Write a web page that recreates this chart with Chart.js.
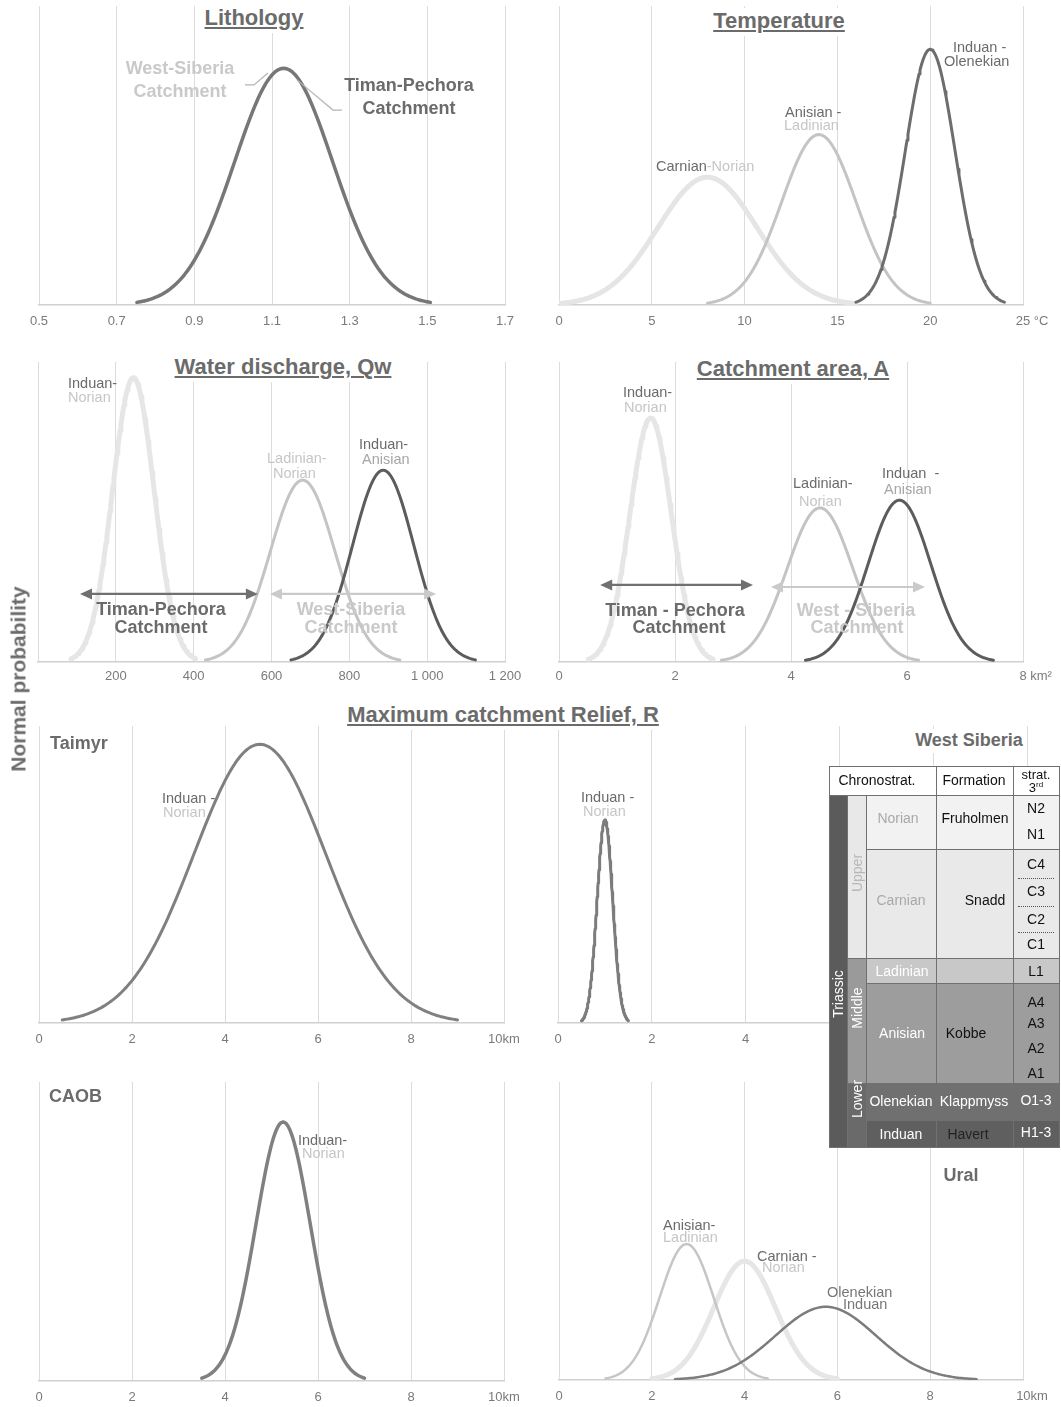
<!DOCTYPE html>
<html><head><meta charset="utf-8">
<script src="https://cdn.jsdelivr.net/npm/chart.js@4.4.0/dist/chart.umd.min.js"></script>
<style>
html,body{margin:0;padding:0;background:#fff;}
#page{position:relative;width:1061px;height:1407px;overflow:hidden;font-family:"Liberation Sans",Arial,sans-serif;background:#fff;}
#page canvas{position:absolute;left:0;top:0;z-index:1;}
.t{position:absolute;white-space:nowrap;line-height:1;z-index:5;}
.cell{position:absolute;box-sizing:border-box;border:1px solid #707070;z-index:10;}
</style></head>
<body><div id="page"></div>
<script>
// ===================== DATA =====================
// Lithology
const lithSeries = ['Timan-Pechora / West-Siberia Catchment'];
const lithMeans = [1.13];
const lithSDs = [0.126];
const lithTicks = [0.5, 0.7, 0.9, 1.1, 1.3, 1.5, 1.7];
const lithTickLabels = ['0,5', '0,7', '0,9', '1,1', '1,3', '1,5', '1,7'];

// Temperature (°C)
const tempSeries = ['Carnian-Norian', 'Anisian-Ladinian', 'Induan-Olenekian'];
const tempMeans = [8, 14, 20];
const tempSDs = [2.667, 2.0, 1.333];
const tempTicks = [0, 5, 10, 15, 20, 25];
const tempTickLabels = ['0', '5', '10', '15', '20', '25 °C'];

// Water discharge, Qw
const qwSeries = ['Induan-Norian', 'Ladinian-Norian', 'Induan-Anisian'];
const qwMeans = [245, 680, 887];
const qwSDs = [53.3, 83.3, 79];
const qwTicks = [0, 200, 400, 600, 800, 1000, 1200];
const qwTickLabels = ['', '200', '400', '600', '800', '1 000', '1 200'];

// Catchment area, A
const areaSeries = ['Induan-Norian', 'Ladinian-Norian', 'Induan-Anisian'];
const areaMeans = [1.58, 4.5, 5.87];
const areaSDs = [0.358, 0.567, 0.54];
const areaTicks = [0, 2, 4, 6, 8];
const areaTickLabels = ['0', '2', '4', '6', '8 km²'];

// Maximum catchment relief, R (km)
const reliefTicks = [0, 2, 4, 6, 8, 10];
const reliefTickLabels = ['0', '2', '4', '6', '8', '10km'];
const taimyrSeries = ['Induan-Norian'];
const taimyrMeans = [4.75];
const taimyrSDs = [1.417];
const wsSeries = ['Induan-Norian'];
const wsMeans = [1.0];
const wsSDs = [0.1667];
const caobSeries = ['Induan-Norian'];
const caobMeans = [5.25];
const caobSDs = [0.583];
const uralSeries = ['Anisian-Ladinian', 'Carnian-Norian', 'Olenekian-Induan'];
const uralMeans = [2.75, 4.0, 5.75];
const uralSDs = [0.583, 0.667, 1.083];

// ===================== RENDERING =====================
const FONT = '"Liberation Sans", Arial, sans-serif';
const page = document.getElementById('page');
const DARK = '#6b6b6b', LIGHT = '#c6c6c6', MIDT = '#a6a6a6';

function normalCurve(m, s) {
  const pts = [];
  const n = 160;
  for (let i = 0; i <= n; i++) {
    const x = m - 3 * s + 6 * s * i / n;
    const y = Math.exp(-0.5 * Math.pow((x - m) / s, 2)) / (s * Math.sqrt(2 * Math.PI));
    pts.push({ x, y });
  }
  return pts;
}

function makeAnnot(arrows, leaders) {
  return {
    id: 'annot',
    afterDatasetsDraw(chart) {
      const ctx = chart.ctx, xs = chart.scales.x, ys = chart.scales.y;
      const px = v => xs.getPixelForValue(v), py = f => ys.getPixelForValue(f * ys.max);
      (leaders || []).forEach(l => {
        ctx.save(); ctx.strokeStyle = l.color; ctx.lineWidth = 1.2; ctx.beginPath();
        l.pts.forEach((p, i) => { const X = px(p[0]), Y = py(p[1]); i ? ctx.lineTo(X, Y) : ctx.moveTo(X, Y); });
        ctx.stroke(); ctx.restore();
      });
      (arrows || []).forEach(a => {
        const x1 = px(a.x1), x2 = px(a.x2), y = py(a.y), hl = 12, hw = 5.5;
        ctx.save(); ctx.strokeStyle = a.color; ctx.fillStyle = a.color; ctx.lineWidth = 2.2;
        ctx.beginPath(); ctx.moveTo(x1 + hl - 1, y); ctx.lineTo(x2 - hl + 1, y); ctx.stroke();
        ctx.beginPath(); ctx.moveTo(x1, y); ctx.lineTo(x1 + hl, y - hw); ctx.lineTo(x1 + hl, y + hw); ctx.closePath(); ctx.fill();
        ctx.beginPath(); ctx.moveTo(x2, y); ctx.lineTo(x2 - hl, y - hw); ctx.lineTo(x2 - hl, y + hw); ctx.closePath(); ctx.fill();
        ctx.restore();
      });
    }
  };
}

function panel(cfg) {
  const c = document.createElement('canvas');
  c.width = 1061; c.height = 1407;
  page.appendChild(c);
  const datasets = cfg.means.map((m, i) => ({
    label: cfg.names[i],
    data: normalCurve(m, cfg.sds[i]),
    showLine: true, fill: false, tension: 0, pointRadius: 0,
    borderColor: cfg.colors[i], borderWidth: cfg.widths[i], order: cfg.orders ? cfg.orders[i] : i,
    borderCapStyle: 'round', borderJoinStyle: 'round'
  }));
  const last = cfg.ticks.length - 1;
  const yScale = cfg.zeroLabel ? {
    display: true, position: 'left', min: 0, max: cfg.ymax,
    grid: { display: false, drawTicks: false }, border: { display: false },
    afterBuildTicks: s => { s.ticks = [{ value: 0 }]; },
    afterFit: s => { s.width = 0; },
    ticks: { padding: 19, color: '#7a7a7a', font: { family: FONT, size: 13 }, callback: () => '0' }
  } : { display: false, min: 0, max: cfg.ymax };
  new Chart(c, {
    type: 'scatter',
    data: { datasets },
    options: {
      responsive: false, animation: false, devicePixelRatio: 1, events: [],
      layout: { padding: { left: cfg.L, right: 1061 - cfg.R, top: cfg.T, bottom: 1407 - cfg.B - 20 } },
      plugins: { legend: { display: false }, tooltip: { enabled: false } },
      scales: {
        x: {
          type: 'linear', min: cfg.ticks[0], max: cfg.ticks[last],
          afterBuildTicks: s => { s.ticks = cfg.ticks.map(v => ({ value: v })); },
          afterFit: s => { s.height = 20; },
          grid: { color: '#dcdcdc', lineWidth: 1, drawTicks: false },
          border: { color: '#d0d0d0', width: 1.6 },
          ticks: {
            padding: cfg.tickPad || 9, color: '#7a7a7a', font: { family: FONT, size: 13 },
            maxRotation: 0, autoSkip: false,
            callback: (v, i) => (i === last && cfg.unitPad ? ' '.repeat(cfg.unitPad) : '') + cfg.tickLabels[i]
          }
        },
        y: yScale
      }
    },
    plugins: [makeAnnot(cfg.arrows, cfg.leaders)]
  });
}

function txt(s, x, y, o = {}) {
  const d = document.createElement('div');
  d.className = 't';
  d.innerHTML = s;
  d.style.left = x + 'px'; d.style.top = y + 'px';
  d.style.fontSize = (o.size || 14.5) + 'px';
  d.style.color = o.color || DARK;
  if (o.bold) d.style.fontWeight = 'bold';
  if (o.underline) { d.style.textDecoration = 'underline'; d.style.textDecorationThickness = '1.5px'; d.style.textUnderlineOffset = '2px'; }
  if (o.bg) { d.style.background = '#fff'; d.style.padding = '2px 3px 4px 3px'; }
  if (o.z) d.style.zIndex = o.z;
  let tr = 'translate(' + (o.center ? '-50%' : '0') + ',-50%)';
  if (o.rotate) tr = 'translate(-50%,-50%) rotate(-90deg)';
  d.style.transform = tr;
  page.appendChild(d);
  return d;
}

// ---- Lithology
panel({
  names: lithSeries, means: lithMeans, sds: lithSDs, ticks: lithTicks, tickLabels: lithTickLabels,
  colors: ['#777777'], widths: [3.5], L: 39, R: 505, T: 6, B: 305, ymax: 4,
  leaders: [
    { color: '#b4b4b4', pts: [[1.0305, 0.736], [1.0536, 0.736], [1.0897, 0.776]] },
    { color: '#b4b4b4', pts: [[1.1644, 0.753], [1.257, 0.652], [1.280, 0.652]] }
  ]
});
// ---- Temperature
panel({
  names: tempSeries, means: tempMeans, sds: tempSDs, ticks: tempTicks, tickLabels: tempTickLabels, unitPad: 5,
  colors: ['#e5e5e5', '#c4c4c4', '#6d6d6d'], widths: [5, 3, 3], orders: [3, 2, 1],
  L: 559, R: 1023, T: 6, B: 305, ymax: 0.35
});
// ---- Water discharge
panel({
  names: qwSeries, means: qwMeans, sds: qwSDs, ticks: qwTicks, tickLabels: qwTickLabels, tickPad: 7,
  colors: ['#e6e6e6', '#c4c4c4', '#5c5c5c'], widths: [5, 3, 3], orders: [3, 2, 1],
  L: 38, R: 505, T: 362, B: 662, ymax: 0.0079,
  arrows: [
    { x1: 108, x2: 565, y: 0.227, color: '#707070' },
    { x1: 596, x2: 1023, y: 0.227, color: '#cacaca' }
  ]
});
// ---- Catchment area
panel({
  names: areaSeries, means: areaMeans, sds: areaSDs, ticks: areaTicks, tickLabels: areaTickLabels, tickPad: 7, unitPad: 7,
  colors: ['#e6e6e6', '#c4c4c4', '#5c5c5c'], widths: [5, 3, 3], orders: [3, 2, 1],
  L: 559, R: 1023, T: 362, B: 662, ymax: 1.37,
  arrows: [
    { x1: 0.71, x2: 3.345, y: 0.257, color: '#707070' },
    { x1: 3.655, x2: 6.31, y: 0.25, color: '#cacaca' }
  ]
});
// ---- Taimyr
panel({
  names: taimyrSeries, means: taimyrMeans, sds: taimyrSDs, ticks: reliefTicks, tickLabels: reliefTickLabels,
  colors: ['#808080'], widths: [3], L: 39, R: 504, T: 726, B: 1023, ymax: 0.3
});
// ---- West Siberia relief
panel({
  names: wsSeries, means: wsMeans, sds: wsSDs, ticks: reliefTicks, tickLabels: reliefTickLabels, unitPad: 5,
  colors: ['#7c7c7c'], widths: [3], L: 558, R: 1031, T: 726, B: 1023, ymax: 3.5, zeroLabel: true
});
// ---- CAOB
panel({
  names: caobSeries, means: caobMeans, sds: caobSDs, ticks: reliefTicks, tickLabels: reliefTickLabels,
  colors: ['#808080'], widths: [3.5], L: 39, R: 504, T: 1082, B: 1381, ymax: 0.79
});
// ---- Ural
panel({
  names: uralSeries, means: uralMeans, sds: uralSDs, ticks: reliefTicks, tickLabels: reliefTickLabels, unitPad: 5,
  colors: ['#c6c6c6', '#e6e6e6', '#7c7c7c'], widths: [2.5, 5, 2.5], orders: [2, 3, 1],
  L: 559, R: 1023, T: 1082, B: 1380, ymax: 1.5
});

// ===================== TEXTS =====================
const TB = { bold: true, size: 22, center: true, underline: true, bg: true, z: 6 };
txt('Lithology', 254, 19, TB);
txt('Temperature', 779, 22, TB);
txt('Water discharge, Qw', 283, 368, TB);
txt('Catchment area, A', 793, 370, TB);
txt('Maximum catchment Relief, R', 503, 716, TB);
txt('Normal probability', 18, 679, { bold: true, size: 21, rotate: true });

// Lithology
txt('West-Siberia', 180, 68, { bold: true, size: 18, center: true, color: '#c9c9c9' });
txt('Catchment', 180, 91, { bold: true, size: 18, center: true, color: '#c9c9c9' });
txt('Timan-Pechora', 409, 85, { bold: true, size: 18, center: true });
txt('Catchment', 409, 108, { bold: true, size: 18, center: true });

// Temperature
txt('Carnian<span style="color:' + LIGHT + '">-Norian</span>', 656, 166);
txt('Anisian -', 785, 112);
txt('Ladinian', 784, 125, { color: LIGHT });
txt('Induan -', 953, 47);
txt('Olenekian', 944, 61);

// Water discharge
txt('Induan-', 68, 383);
txt('Norian', 68, 397, { color: LIGHT });
txt('Ladinian-', 267, 458, { color: LIGHT });
txt('Norian', 273, 473, { color: LIGHT });
txt('Induan-', 359, 444);
txt('Anisian', 362, 459, { color: MIDT });
txt('Timan-Pechora', 161, 609, { bold: true, size: 18, center: true });
txt('Catchment', 161, 627, { bold: true, size: 18, center: true });
txt('West-Siberia', 351, 609, { bold: true, size: 18, center: true, color: '#c9c9c9' });
txt('Catchment', 351, 627, { bold: true, size: 18, center: true, color: '#c9c9c9' });

// Catchment area
txt('Induan-', 623, 392);
txt('Norian', 624, 407, { color: LIGHT });
txt('Ladinian-', 793, 483);
txt('Norian', 799, 501, { color: LIGHT });
txt('Induan&nbsp;&nbsp;-', 882, 473);
txt('Anisian', 884, 489, { color: MIDT });
txt('Timan - Pechora', 675, 610, { bold: true, size: 18, center: true });
txt('Catchment', 679, 627, { bold: true, size: 18, center: true });
txt('West - Siberia', 856, 610, { bold: true, size: 18, center: true, color: '#c9c9c9' });
txt('Catchment', 857, 627, { bold: true, size: 18, center: true, color: '#c9c9c9' });

// Relief
txt('Taimyr', 50, 743, { bold: true, size: 18 });
txt('Induan -', 162, 798);
txt('Norian', 163, 812, { color: LIGHT });
txt('Induan -', 581, 797);
txt('Norian', 583, 811, { color: LIGHT });
txt('West Siberia', 969, 741, { bold: true, size: 18, center: true, bg: true });
txt('CAOB', 49, 1096, { bold: true, size: 18 });
txt('Induan-', 298, 1140);
txt('Norian', 302, 1153, { color: LIGHT });
txt('Ural', 961, 1175, { bold: true, size: 18, center: true });
txt('Anisian-', 663, 1225);
txt('Ladinian', 663, 1237, { color: LIGHT });
txt('Carnian -', 757, 1256);
txt('Norian', 762, 1267, { color: LIGHT });
txt('Olenekian', 827, 1292, { color: '#777' });
txt('Induan', 843, 1304, { color: '#777' });

// ===================== STRATIGRAPHIC TABLE =====================
function cell(x, y, w, h, bg) {
  const d = document.createElement('div');
  d.className = 'cell';
  d.style.left = x + 'px'; d.style.top = y + 'px';
  d.style.width = (w + 1) + 'px'; d.style.height = (h + 1) + 'px';
  d.style.background = bg;
  page.appendChild(d);
}
function tt(s, x, y, color, o = {}) {
  return txt(s, x, y, Object.assign({ center: true, size: 14, color: color, z: 11 }, o));
}
// header
cell(829, 766, 107, 29, '#fff'); cell(936, 766, 77, 29, '#fff'); cell(1013, 766, 46, 29, '#fff');
tt('Chronostrat.', 877, 780, '#111'); tt('Formation', 974, 780, '#111');
tt('strat.', 1036, 774, '#111', { size: 13 });
tt('3<sup style="font-size:8px;vertical-align:5px">rd</sup>', 1036, 787, '#111', { size: 13 });
// era / series strips
cell(829, 795, 18, 352, '#5b5b5b');
cell(847, 795, 19, 163, '#e8e8e8');
cell(847, 958, 19, 125, '#9a9a9a');
cell(847, 1083, 19, 64, '#6a6a6a');
tt('Triassic', 838, 994, '#fff', { rotate: true });
tt('Upper', 857, 873, '#b8b8b8', { rotate: true });
tt('Middle', 857, 1008, '#fff', { rotate: true });
tt('Lower', 857, 1099, '#fff', { rotate: true });
// rows
const rows = [
  [795, 54, '#f2f2f2'], [849, 109, '#e9e9e9'], [958, 25, '#c8c8c8'],
  [983, 100, '#9d9d9d'], [1083, 37, '#707070'], [1120, 27, '#5f5f5f']
];
rows.forEach(r => { cell(866, r[0], 70, r[1], r[2]); cell(936, r[0], 77, r[1], r[2]); cell(1013, r[0], 46, r[1], r[2]); });
tt('Norian', 898, 818, '#a9a9a9'); tt('Fruholmen', 975, 818, '#111');
tt('N2', 1036, 808, '#111'); tt('N1', 1036, 834, '#111');
tt('Carnian', 901, 900, '#a9a9a9'); tt('Snadd', 985, 900, '#111');
tt('C4', 1036, 864, '#111'); tt('C3', 1036, 891, '#111'); tt('C2', 1036, 919, '#111'); tt('C1', 1036, 944, '#111');
[878, 906, 932].forEach(y => {
  const d = document.createElement('div');
  d.style.cssText = 'position:absolute;left:1018px;width:36px;top:' + y + 'px;border-top:1px dotted #555;z-index:11;';
  page.appendChild(d);
});
tt('Ladinian', 902, 971, '#fff'); tt('L1', 1036, 971, '#111');
tt('Anisian', 902, 1033, '#fff'); tt('Kobbe', 966, 1033, '#111');
tt('A4', 1036, 1002, '#111'); tt('A3', 1036, 1023, '#111'); tt('A2', 1036, 1048, '#111'); tt('A1', 1036, 1073, '#111');
tt('Olenekian', 901, 1101, '#fff'); tt('Klappmyss', 974, 1101, '#fff'); tt('O1-3', 1036, 1100, '#fff');
tt('Induan', 901, 1134, '#fff'); tt('Havert', 968, 1134, '#222'); tt('H1-3', 1036, 1132, '#fff');
</script>
</body></html>
